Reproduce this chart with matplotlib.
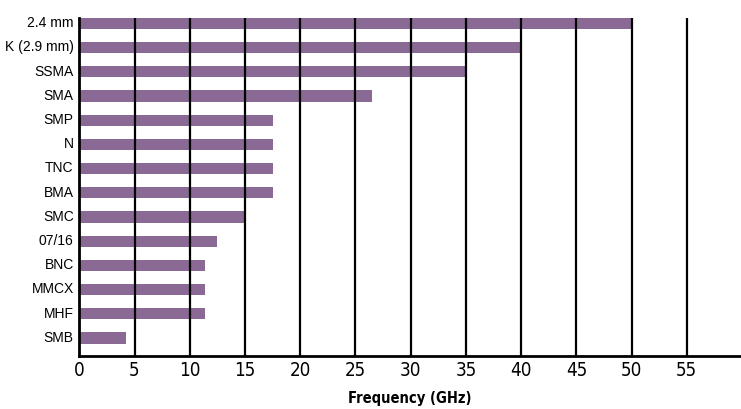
import matplotlib
matplotlib.use("Agg")
import matplotlib.pyplot as plt
import matplotlib.transforms as mtransforms

# connector types and their max frequency (GHz)
connectors = ["2.4 mm", "K (2.9 mm)", "SSMA", "SMA", "SMP", "N", "TNC", "BMA",
              "SMC", "07/16", "BNC", "MMCX", "MHF", "SMB"]
freq_ghz = [50, 40, 35, 26.5, 17.5, 17.5, 17.5, 17.5, 15, 12.5, 11.4, 11.4, 11.4, 4.2]
x_ticks = [0, 5, 10, 15, 20, 25, 30, 35, 40, 45, 50, 55]

fig = plt.figure(figsize=(7.41, 4.10), dpi=100)
ax = fig.add_axes([0.107, 0.130, 0.893, 0.824])

ypos = list(range(len(connectors)))
ax.barh(ypos, freq_ghz, height=0.46, color="#8a6a94", zorder=1)

ax.set_xlim(0, 59.9)
ax.set_ylim(13.73, -0.23)
ax.set_xticks(x_ticks)
ax.set_yticks(ypos)
ax.set_yticklabels(connectors, fontsize=10, family=["Liberation Sans", "DejaVu Sans"])
for lbl in ax.get_xticklabels():
    lbl.set_family("DejaVu Sans")
    lbl.set_stretch("condensed")
    lbl.set_fontsize(13.5)
ax.tick_params(axis="x", length=0, pad=3)
ax.tick_params(axis="y", length=0, pad=4)

# labels sit a little above bar centres
off = mtransforms.ScaledTranslation(0, 2 / 72, fig.dpi_scale_trans)
for lbl in ax.get_yticklabels():
    lbl.set_transform(lbl.get_transform() + off)

ax.xaxis.grid(True, color="black", linewidth=1.6)
ax.set_axisbelow(False)

for s in ["top", "right"]:
    ax.spines[s].set_visible(False)
ax.spines["left"].set_linewidth(2)
ax.spines["bottom"].set_linewidth(2)

ax.set_xlabel("Frequency (GHz)", fontsize=10.5, fontweight="bold",
              family="DejaVu Sans", fontstretch="condensed", labelpad=8)

fig.savefig("out.png", dpi=100)
